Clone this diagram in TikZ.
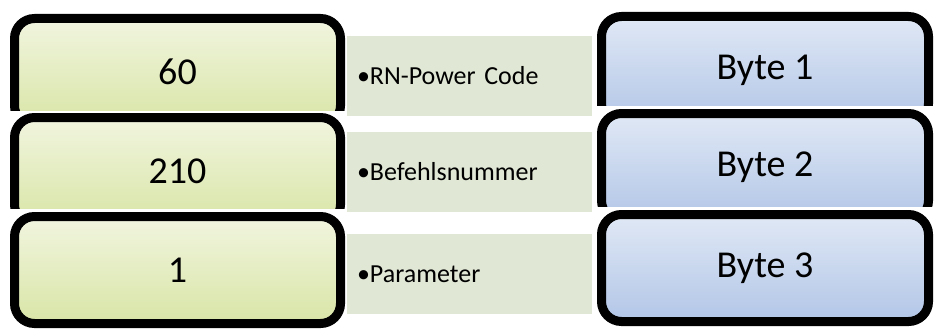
\documentclass[tikz,border=0pt]{standalone}
\usepackage{fontspec}
\setmainfont{Carlito}

\definecolor{valtop}{RGB}{241,245,223}
\definecolor{valbot}{RGB}{216,229,166}
\definecolor{bytetop}{RGB}{224,232,245}
\definecolor{bytebot}{RGB}{178,198,231}
\definecolor{descfill}{RGB}{224,231,212}

\begin{document}
\begin{tikzpicture}[x=1pt, y=-1pt,
    val node/.style={rectangle, draw=black, line width=9pt, rounded corners=20pt,
        top color=valtop, bottom color=valbot, minimum width=326pt, minimum height=107pt,
        font=\fontsize{38}{40}\selectfont},
    byte node/.style={rectangle, draw=black, line width=9pt, rounded corners=20pt,
        top color=bytetop, bottom color=bytebot, minimum width=327pt, minimum height=107pt,
        font=\fontsize{38}{40}\selectfont},
    desc node/.style={rectangle, fill=descfill, minimum width=245pt, minimum height=80pt,
        text width=225pt, inner xsep=10pt, align=left, font=\fontsize{26}{28}\selectfont}]

    \useasboundingbox (0,0) rectangle (936,329);

    % left column: values
    \begin{scope}
        \clip (0,0) rectangle (936,110);
        \node[val node] at (177.5, 72) (v1) {60};
    \end{scope}
    \begin{scope}
        \clip (0,111) rectangle (936,208);
        \node[val node] at (177.5, 171) (v2) {210};
    \end{scope}
    \node[val node] at (177.5, 270) (v3) {1};

    % middle column: meaning
    \node[desc node] at (469.5, 76) (d1) {•RN-Power Code};
    \node[desc node] at (469.5, 172) (d2) {•Befehlsnummer};
    \node[desc node] at (469.5, 274) (d3) {•Parameter};

    % right column: byte position
    \begin{scope}
        \clip (0,0) rectangle (936,105);
        \node[byte node] at (765, 70) (b1) {Byte 1};
    \end{scope}
    \begin{scope}
        \clip (0,108) rectangle (936,206);
        \node[byte node] at (765, 167) (b2) {Byte 2};
    \end{scope}
    \node[byte node] at (765, 268) (b3) {Byte 3};

\end{tikzpicture}
\end{document}
